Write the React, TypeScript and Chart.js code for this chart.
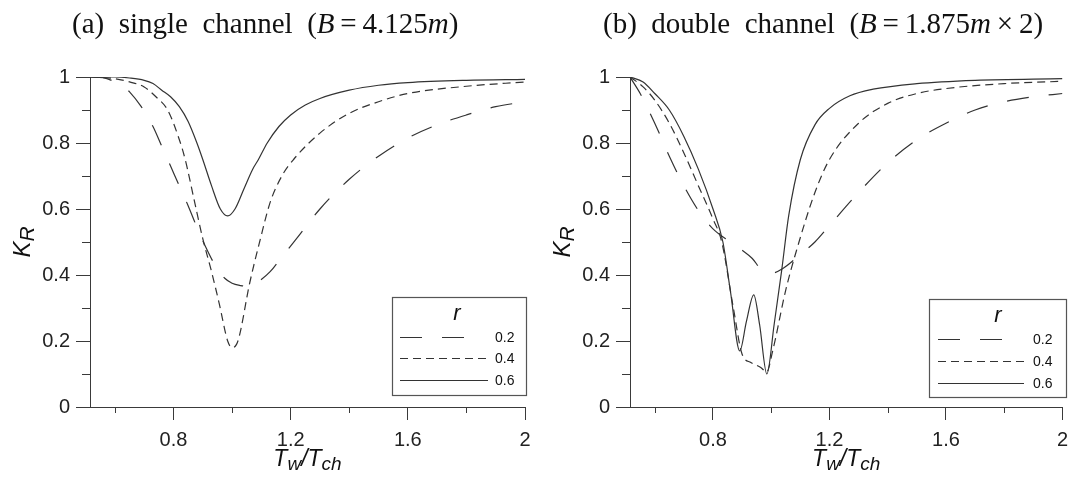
import React, { useEffect, useRef } from 'react';
import { Chart, registerables } from 'chart.js';

Chart.register(...registerables);

// ---------- data ----------
const rLabels = ['0.2', '0.4', '0.6'];
const xTickValues = [0.8, 1.2, 1.6, 2];
const xMinorValues = [0.6, 1.0, 1.4, 1.8];
const yTickValues = [0, 0.2, 0.4, 0.6, 0.8, 1];
const yMinorValues = [0.1, 0.3, 0.5, 0.7, 0.9];

// (a) single channel
const aX02 = [0.515, 0.56, 0.6, 0.63, 0.65, 0.69, 0.73, 0.76, 0.79, 0.82, 0.85, 0.88, 0.91, 0.945, 0.975, 1.0, 1.03, 1.06, 1.09, 1.13, 1.17, 1.22, 1.3, 1.4, 1.5, 1.6, 1.7, 1.8, 1.9, 2.0];
const aY02 = [1.0, 0.998, 0.985, 0.97, 0.955, 0.91, 0.85, 0.79, 0.73, 0.67, 0.61, 0.545, 0.485, 0.425, 0.39, 0.375, 0.368, 0.365, 0.38, 0.41, 0.455, 0.51, 0.6, 0.69, 0.76, 0.815, 0.855, 0.885, 0.91, 0.925];

const aX04 = [0.515, 0.6, 0.65, 0.7, 0.74, 0.78, 0.82, 0.84, 0.87, 0.9, 0.93, 0.957, 0.985, 1.0, 1.02, 1.06, 1.094, 1.13, 1.17, 1.21, 1.3, 1.4, 1.5, 1.6, 1.8, 2.0];
const aY04 = [1.0, 0.995, 0.985, 0.97, 0.94, 0.9, 0.81, 0.75, 0.63, 0.51, 0.41, 0.31, 0.2, 0.18, 0.2, 0.375, 0.5, 0.62, 0.7, 0.75, 0.83, 0.89, 0.925, 0.95, 0.972, 0.985];

const aX06 = [0.515, 0.6, 0.65, 0.7, 0.73, 0.76, 0.79, 0.82, 0.85, 0.88, 0.9, 0.93, 0.96, 0.985, 1.01, 1.04, 1.07, 1.09, 1.12, 1.16, 1.2, 1.25, 1.3, 1.4, 1.5, 1.6, 1.8, 2.0];
const aY06 = [1.0, 1.0, 0.997, 0.99, 0.98, 0.96, 0.94, 0.91, 0.865, 0.8, 0.75, 0.67, 0.6, 0.579, 0.6, 0.66, 0.72, 0.75, 0.8, 0.85, 0.885, 0.915, 0.935, 0.96, 0.975, 0.983, 0.99, 0.993];

// (b) double channel
const bX02 = [0.515, 0.55, 0.6, 0.65, 0.7, 0.75, 0.8, 0.86, 0.9, 0.935, 0.967, 1.0, 1.04, 1.097, 1.15, 1.2, 1.3, 1.4, 1.5, 1.6, 1.7, 1.8, 1.9, 2.0];
const bY02 = [1.0, 0.95, 0.86, 0.76, 0.67, 0.595, 0.54, 0.5, 0.475, 0.45, 0.415, 0.405, 0.42, 0.46, 0.5, 0.55, 0.65, 0.74, 0.81, 0.86, 0.9, 0.925, 0.94, 0.95];

const bX04 = [0.515, 0.56, 0.6, 0.65, 0.7, 0.75, 0.8, 0.83, 0.87, 0.9, 0.93, 0.964, 0.984, 1.005, 1.05, 1.087, 1.15, 1.2, 1.3, 1.4, 1.5, 1.6, 1.8, 2.0];
const bY04 = [1.0, 0.97, 0.93, 0.86, 0.77, 0.67, 0.57, 0.5, 0.3, 0.16, 0.135, 0.12, 0.106, 0.17, 0.355, 0.475, 0.65, 0.75, 0.86, 0.92, 0.95, 0.965, 0.98, 0.987];

const bX06 = [0.515, 0.56, 0.6, 0.65, 0.7, 0.75, 0.8, 0.834, 0.86, 0.892, 0.915, 0.94, 0.96, 0.985, 1.01, 1.036, 1.06, 1.1, 1.15, 1.2, 1.27, 1.35, 1.5, 1.7, 2.0];
const bY06 = [1.0, 0.985, 0.95, 0.9, 0.82, 0.72, 0.6, 0.5, 0.35, 0.17, 0.26, 0.34, 0.25, 0.1, 0.25, 0.415, 0.58, 0.75, 0.855, 0.905, 0.943, 0.963, 0.98, 0.99, 0.995];

// ---------- styles ----------
const LINE = '#333';
const AXIS = '#3a3a3a';
const DASHES = [[22, 20], [8, 5], []];
const SANS = '"Liberation Sans", Arial, sans-serif';

function pts(xs: number[], ys: number[]) {
  return xs.map((x, i) => ({ x, y: ys[i] }));
}

const decorPlugin = {
  id: 'decor',
  afterDraw(chart: any, _args: any, opts: any) {
    const { ctx, chartArea } = chart;
    const xs = chart.scales.x;
    const ys = chart.scales.y;
    ctx.save();
    ctx.strokeStyle = AXIS;
    ctx.lineWidth = 1;
    ctx.setLineDash([]);
    // minor ticks
    xMinorValues.forEach((v) => {
      const px = Math.round(xs.getPixelForValue(v)) + 0.5;
      ctx.beginPath();
      ctx.moveTo(px, chartArea.bottom);
      ctx.lineTo(px, chartArea.bottom + 6);
      ctx.stroke();
    });
    yMinorValues.forEach((v) => {
      const py = Math.round(ys.getPixelForValue(v)) + 0.5;
      ctx.beginPath();
      ctx.moveTo(chartArea.left - 8, py);
      ctx.lineTo(chartArea.left, py);
      ctx.stroke();
    });

    // x axis title  T_w / T_ch
    ctx.fillStyle = '#111';
    ctx.textBaseline = 'alphabetic';
    ctx.textAlign = 'left';
    const big = `italic 23px ${SANS}`;
    const sub = `italic 19px ${SANS}`;
    const parts: [string, string, number][] = [
      ['T', big, 0], ['w', sub, 4], ['/', big, 0], ['T', big, 0], ['ch', sub, 4],
    ];
    let w = 0;
    parts.forEach(([t, f]) => { ctx.font = f; w += ctx.measureText(t).width; });
    let cx = (chartArea.left + chartArea.right) / 2 - w / 2;
    const base = opts.xTitleY;
    parts.forEach(([t, f, dy]) => {
      ctx.font = f;
      ctx.fillText(t, cx, base + dy);
      cx += ctx.measureText(t).width;
    });

    // y axis title K_R
    ctx.save();
    ctx.translate(opts.yTitleX, (chartArea.top + chartArea.bottom) / 2);
    ctx.rotate(-Math.PI / 2);
    const yparts: [string, string, number][] = [['K', `italic 24px ${SANS}`, 0], ['R', `italic 21px ${SANS}`, 4]];
    let yw = 0;
    yparts.forEach(([t, f]) => { ctx.font = f; yw += ctx.measureText(t).width; });
    let yx = -yw / 2;
    yparts.forEach(([t, f, dy]) => {
      ctx.font = f;
      ctx.fillText(t, yx, dy);
      yx += ctx.measureText(t).width;
    });
    ctx.restore();

    // legend
    const L = opts.legend;
    ctx.strokeStyle = '#555';
    ctx.lineWidth = 1.2;
    ctx.strokeRect(L.left + 0.5, L.top + 0.5, L.right - L.left, L.bottom - L.top);
    ctx.fillStyle = '#111';
    ctx.font = `italic 22px ${SANS}`;
    ctx.textAlign = 'center';
    ctx.textBaseline = 'middle';
    ctx.fillText('r', L.titleX, L.titleY);
    ctx.textAlign = 'left';
    ctx.font = `14px ${SANS}`;
    chart.data.datasets.forEach((ds: any, i: number) => {
      const yy = L.rows[i] + 0.5;
      const dash: number[] = ds.borderDash || [];
      let end = L.lineX1;
      if (dash.length === 2) {
        const period = dash[0] + dash[1];
        const n = Math.floor((L.lineX1 - L.lineX0 + dash[1]) / period);
        end = L.lineX0 + n * period - dash[1];
      }
      ctx.strokeStyle = LINE;
      ctx.lineWidth = 1.2;
      ctx.setLineDash(dash);
      ctx.beginPath();
      ctx.moveTo(L.lineX0, yy);
      ctx.lineTo(end, yy);
      ctx.stroke();
      ctx.setLineDash([]);
      ctx.fillStyle = '#111';
      ctx.fillText(ds.label, L.labelX, L.rows[i] + 1);
    });
    ctx.restore();
  },
};

function makeConfig(series: { x: number[]; y: number[] }[], padRight: number, legend: any): any {
  const tickFont = { family: SANS, size: 20 };
  return {
    type: 'line',
    data: {
      datasets: series.map((s, i) => ({
        label: rLabels[i],
        data: pts(s.x, s.y),
        borderColor: LINE,
        borderWidth: 1.2,
        borderDash: DASHES[i],
        pointRadius: 0,
        fill: false,
        cubicInterpolationMode: 'monotone',
      })),
    },
    options: {
      animation: false,
      responsive: false,
      devicePixelRatio: 1,
      layout: { padding: { top: 77, right: padRight, left: 0, bottom: 0 } },
      plugins: {
        legend: { display: false },
        tooltip: { enabled: false },
        decor: { xTitleY: 466, yTitleX: 30, legend },
      },
      scales: {
        x: {
          type: 'linear',
          min: 0.515,
          max: 2,
          afterBuildTicks: (s: any) => { s.ticks = xTickValues.map((v) => ({ value: v })); },
          afterFit: (s: any) => { s.height = 74; },
          ticks: { font: tickFont, color: '#222', padding: 8, maxRotation: 0, autoSkip: false, callback: (v: any) => `${v}` },
          grid: { drawOnChartArea: false, drawTicks: true, tickLength: 13, tickColor: AXIS, tickWidth: 1 },
          border: { display: true, color: AXIS, width: 1 },
        },
        y: {
          type: 'linear',
          min: 0,
          max: 1,
          afterBuildTicks: (s: any) => { s.ticks = yTickValues.map((v) => ({ value: v })); },
          afterFit: (s: any) => { s.width = 90; },
          ticks: { font: tickFont, color: '#222', padding: 6, autoSkip: false, callback: (v: any) => `${v}` },
          grid: { drawOnChartArea: false, drawTicks: true, tickLength: 14, tickColor: AXIS, tickWidth: 1 },
          border: { display: true, color: AXIS, width: 1 },
        },
      },
    },
    plugins: [decorPlugin],
  };
}

export default function App() {
  const refA = useRef<HTMLCanvasElement>(null);
  const refB = useRef<HTMLCanvasElement>(null);

  useEffect(() => {
    const ca = new Chart(
      refA.current as HTMLCanvasElement,
      makeConfig(
        [{ x: aX02, y: aY02 }, { x: aX04, y: aY04 }, { x: aX06, y: aY06 }],
        15,
        { left: 392, top: 297, right: 526, bottom: 395, titleX: 457, titleY: 314, rows: [337, 358, 380], lineX0: 400, lineX1: 488, labelX: 495 },
      ),
    );
    const cb = new Chart(
      refB.current as HTMLCanvasElement,
      makeConfig(
        [{ x: bX02, y: bY02 }, { x: bX04, y: bY04 }, { x: bX06, y: bY06 }],
        12,
        { left: 389, top: 299, right: 526, bottom: 397, titleX: 458, titleY: 316, rows: [339, 361, 383], lineX0: 398, lineX1: 484, labelX: 493 },
      ),
    );
    return () => { ca.destroy(); cb.destroy(); };
  }, []);

  const titleStyle: React.CSSProperties = {
    position: 'absolute',
    top: 6,
    fontFamily: '"Liberation Serif", "Times New Roman", serif',
    fontSize: 29,
    lineHeight: '34px',
    whiteSpace: 'pre',
    color: '#111',
  };

  return (
    <div style={{ position: 'absolute', left: 0, top: 0, width: 1076, height: 481, background: '#fff', overflow: 'hidden' }}>
      <canvas ref={refA} width={540} height={481} style={{ position: 'absolute', left: 0, top: 0 }} />
      <canvas ref={refB} width={536} height={481} style={{ position: 'absolute', left: 540, top: 0 }} />
      <div style={{ ...titleStyle, left: 72 }}>
        (a)  single  channel  (<i>B</i>{'\u2009'}={'\u2009'}4.125<i>m</i>)
      </div>
      <div style={{ ...titleStyle, left: 603 }}>
        (b)  double  channel  (<i>B</i>{'\u2009'}={'\u2009'}1.875<i>m</i>{'\u2009'}×{'\u2009'}2)
      </div>
    </div>
  );
}
